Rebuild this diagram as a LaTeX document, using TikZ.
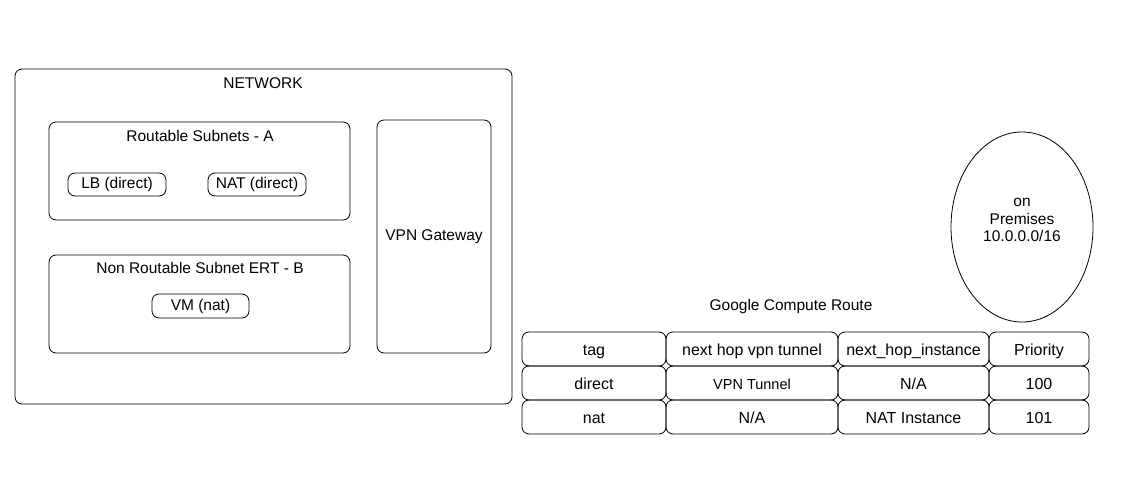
\documentclass[tikz,border=0pt]{standalone}
\usepackage{fontspec}
\setmainfont{Liberation Sans}
\usetikzlibrary{shapes.geometric}

\tikzset{
  box/.style={draw, line width=0.8pt, rounded corners=7pt, inner sep=0pt},
  cell/.style={box, minimum height=34pt, text height=14pt, text depth=1pt, font=\fontsize{16}{18}\selectfont},
  txt/.style={font=\fontsize{15.5}{18}\selectfont, inner sep=0pt}
}

\begin{document}
\begin{tikzpicture}[x=1pt, y=-1pt]
    \useasboundingbox (0,0) rectangle (1142,500);
    % network side
    \node[box, minimum width=497pt, minimum height=335pt] (network) at (263.5,236.5) {};
    \node[txt] (netlabel) at (263,83) {NETWORK};
    \node[box, minimum width=301pt, minimum height=98pt] (suba) at (199.5,171) {};
    \node[txt] (subalabel) at (200,136) {Routable Subnets - A};
    \node[box, txt, minimum width=98pt, minimum height=23pt] (lb) at (117,184.5) {LB (direct)};
    \node[box, txt, minimum width=98pt, minimum height=23pt] (nat) at (257,184.5) {NAT (direct)};
    \node[box, minimum width=301pt, minimum height=98pt] (subb) at (199.5,304) {};
    \node[txt] (subblabel) at (200,268) {Non Routable Subnet ERT - B};
    \node[box, txt, minimum width=97pt, minimum height=24pt] (vm) at (200.5,306) {VM (nat)};
    \node[box, txt, minimum width=114pt, minimum height=233pt] (vpn) at (434,236.5) {VPN Gateway};

    % on premises
    \node[draw, line width=0.8pt, ellipse, minimum width=142pt, minimum height=190pt] (onprem) at (1022,227) {};
    \node[txt, align=center, font=\fontsize{15.5}{17.5}\selectfont] (onpremtext) at (1022,220) {on\\Premises\\10.0.0.0/16};

    % route table
    \node[txt] (title) at (791,306) {Google Compute Route};
    \foreach \x/\w/\t [count=\c] in {594/144/tag, 752/172/next hop vpn tunnel,
        913.5/151/next\_hop\_instance, 1039/100/Priority}
      \node[cell, minimum width=\w pt] (r1c\c) at (\x,349) {\t};
    \foreach \x/\w/\t [count=\c] in {594/144/direct, 752/172/{\fontsize{14.5}{16}\selectfont VPN Tunnel},
        913.5/151/{N/A}, 1039/100/100}
      \node[cell, minimum width=\w pt] (r2c\c) at (\x,383) {\t};
    \foreach \x/\w/\t [count=\c] in {594/144/nat, 752/172/{N/A},
        913.5/151/NAT Instance, 1039/100/101}
      \node[cell, minimum width=\w pt] (r3c\c) at (\x,417) {\t};
\end{tikzpicture}
\end{document}
